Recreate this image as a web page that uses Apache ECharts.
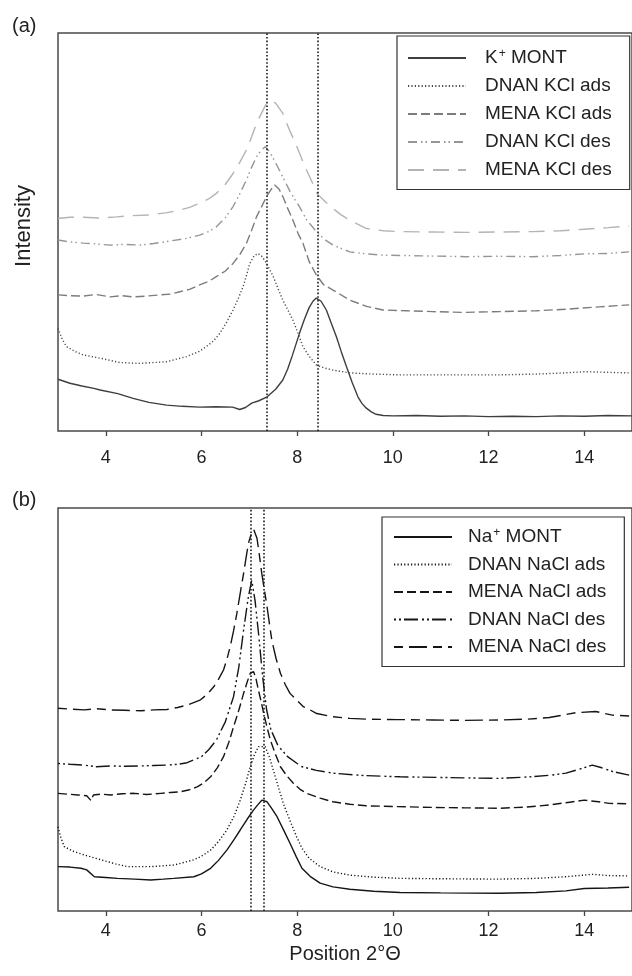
<!DOCTYPE html>
<html>
<head>
<meta charset="utf-8">
<script src="https://cdn.jsdelivr.net/npm/echarts@6/dist/echarts.min.js"></script>
<style>html,body{margin:0;padding:0;background:#fff;}#c{width:632px;height:976px;}</style>
</head>
<body>
<div id="c"></div>
<script>
// ---------- data (x = 2θ position, y = relative intensity, 0..100) ----------
const tickValues = [4, 6, 8, 10, 12, 14];

// (a) K-montmorillonite
const kMont = [[3,13],[3.25,12],[3.5,11.3],[3.75,10.7],[3.88,10.3],[4.25,9.4],[4.57,8.2],[4.9,7.2],[5.27,6.5],[5.6,6.2],[5.96,6],[6.3,6.1],[6.65,6],[6.8,5.4],[6.92,5.9],[7.05,7],[7.2,7.6],[7.36,8.5],[7.55,10.5],[7.7,12.8],[7.8,15.5],[7.9,19],[8.05,24.6],[8.15,28],[8.25,31],[8.33,32.6],[8.4,33.4],[8.5,32.6],[8.61,30.4],[8.7,27.5],[8.82,23.7],[8.92,20],[9.03,16.2],[9.15,12.2],[9.27,8.6],[9.35,7],[9.44,5.8],[9.55,4.8],[9.65,4.2],[9.8,3.9],[10,3.8],[10.5,3.9],[11,3.7],[11.5,3.8],[12,3.6],[12.5,3.7],[13,3.6],[13.5,3.8],[14,3.7],[14.5,3.9],[15,3.8]];
const dnanKClAds = [[3,25.8],[3.09,23],[3.18,21.2],[3.35,20],[3.53,19.1],[3.88,18.3],[4.29,17.2],[4.71,17],[5.27,17.4],[5.69,18.7],[5.95,20],[6.1,21.2],[6.25,22.6],[6.38,24.5],[6.52,27.2],[6.66,30.4],[6.77,33.3],[6.87,36.3],[6.95,39.5],[7.01,42.1],[7.1,44],[7.18,44.6],[7.27,43.8],[7.36,42.1],[7.5,38.8],[7.6,35.8],[7.7,32.9],[7.81,30.3],[7.91,27.9],[8.02,24.5],[8.12,21.2],[8.25,18.8],[8.4,16.6],[8.55,15.9],[8.75,15.3],[9.1,14.6],[9.6,14.3],[10.14,14.1],[11,14.1],[12.23,14.1],[13,14.3],[13.6,14.6],[14,14.9],[14.3,14.8],[14.94,14.6]];
const menaKClAds = [[3,34.2],[3.25,34],[3.53,33.9],[3.8,34.3],[4.09,33.7],[4.35,34],[4.57,33.7],[4.85,33.9],[5.13,34.2],[5.35,34.4],[5.55,35],[5.75,35.6],[5.96,36.7],[6.15,37.6],[6.31,38.8],[6.5,40.2],[6.66,42.1],[6.8,44.3],[6.94,47.2],[7.05,50.5],[7.15,53.8],[7.25,56.2],[7.36,58.9],[7.45,60.6],[7.53,61.8],[7.62,60.8],[7.7,58.9],[7.8,56],[7.91,53],[8.02,49.6],[8.12,47.2],[8.25,42.6],[8.4,39.2],[8.55,36.8],[8.75,35.4],[9.1,32.9],[9.45,31.3],[9.79,30.4],[10.3,30.2],[10.83,30],[11.5,29.8],[12.23,30],[13,30.2],[13.62,30.6],[14.32,31.2],[14.94,31.7]];
const dnanKClDes = [[3,48],[3.25,47.5],[3.53,47.2],[3.8,47],[4.09,46.7],[4.4,46.9],[4.71,46.7],[5.0,47.1],[5.27,47.6],[5.69,48.4],[5.96,49.2],[6.15,50.1],[6.31,51.3],[6.5,53.6],[6.66,56.4],[6.8,59.6],[6.94,63.1],[7.05,66.3],[7.15,68.9],[7.25,70.6],[7.33,71.4],[7.42,70.2],[7.55,67.4],[7.7,63.8],[7.85,60.2],[7.95,58.2],[8.05,56.3],[8.2,53],[8.43,49.7],[8.6,47.9],[8.75,46.7],[9.1,45],[9.45,44.5],[9.79,44.2],[10.6,44],[11.53,43.8],[12.2,43.9],[12.92,43.8],[13.5,44.1],[14,44.5],[14.5,44.6],[14.94,45]];
const menaKClDes = [[3,53.4],[3.25,53.7],[3.53,53.7],[3.85,53.5],[4.22,53.8],[4.55,54.1],[4.92,54.3],[5.25,54.8],[5.55,55.5],[5.75,56.2],[5.96,57.2],[6.15,58.3],[6.31,59.7],[6.5,62],[6.66,64.7],[6.8,67.5],[6.94,70.6],[7.05,74],[7.15,77.3],[7.26,80],[7.36,82.3],[7.45,82.9],[7.55,82.4],[7.7,79.8],[7.84,75.6],[7.95,72.7],[8.05,69.8],[8.15,66.8],[8.26,63.9],[8.43,59.4],[8.6,57.5],[8.75,55.9],[8.92,54.3],[9.1,53],[9.44,50.9],[9.8,50.3],[10.14,50.1],[10.8,50],[11.53,49.9],[12.2,50],[12.92,50.1],[13.5,50.3],[14,50.7],[14.5,51.1],[14.94,51.5]];
const markA = [7.37, 8.43];

// (b) Na-montmorillonite
const naMont = [[3,11],[3.25,10.9],[3.48,10.6],[3.6,10.2],[3.76,8.5],[4.0,8.3],[4.24,8.1],[4.6,7.9],[4.94,7.7],[5.2,7.9],[5.42,8.1],[5.84,8.5],[6.0,9.2],[6.19,10.6],[6.35,12.5],[6.53,15.1],[6.68,17.7],[6.81,20.1],[6.95,22.7],[7.09,25.1],[7.18,26.4],[7.26,27.5],[7.37,27.1],[7.47,25.4],[7.58,23.4],[7.72,20],[7.85,16.8],[7.98,13.5],[8.1,10.6],[8.27,8.6],[8.48,6.9],[8.75,6],[9.1,5.4],[9.6,4.9],[10.15,4.6],[11,4.5],[12.23,4.4],[13,4.6],[13.62,5],[14,5.6],[14.5,5.7],[14.94,5.9]];
const dnanNaClAds = [[3,20.9],[3.06,18.2],[3.13,16],[3.3,14.9],[3.55,13.9],[3.9,12.7],[4.2,11.7],[4.45,11],[4.94,11],[5.42,11.4],[5.84,12.7],[6.0,13.6],[6.19,15.1],[6.36,17.3],[6.53,20.1],[6.68,23.5],[6.81,27.5],[6.92,31.6],[7.02,35.8],[7.1,38.6],[7.19,40.8],[7.33,40.8],[7.42,38.2],[7.5,35],[7.6,31],[7.71,26.7],[7.85,22.4],[7.99,18.4],[8.1,15.6],[8.25,13.1],[8.48,11],[8.75,9.7],[9.1,8.9],[9.6,8.4],[10.15,8.1],[11,8],[12.23,7.9],[13,8.1],[13.62,8.5],[14.17,9.1],[14.5,8.8],[14.94,8.7]];
const menaNaClAds = [[3,29.2],[3.2,29],[3.41,28.8],[3.6,28.6],[3.69,27.4],[3.74,28.8],[3.9,29],[4.1,28.8],[4.35,29.1],[4.59,29.2],[4.85,28.9],[5.15,29.2],[5.35,29.4],[5.56,29.6],[5.75,30.1],[5.91,30.8],[6.05,31.8],[6.19,33.3],[6.33,35.5],[6.46,38.3],[6.57,41.8],[6.67,45.7],[6.78,49.8],[6.88,54],[6.96,57],[7.02,59],[7.09,59.4],[7.14,57.6],[7.19,54.8],[7.25,51.8],[7.3,49],[7.37,45.6],[7.44,42.4],[7.55,38.8],[7.65,35.8],[7.78,33.6],[7.92,31.7],[8.06,30.2],[8.2,29.2],[8.48,28],[8.75,27.1],[9.1,26.5],[9.44,26.1],[10.1,25.9],[10.84,25.7],[11.5,25.6],[12.23,25.5],[12.8,25.8],[13.27,26.3],[13.7,27],[14,27.5],[14.3,27.1],[14.52,26.7],[14.94,26.6]];
const dnanNaClDes = [[3,36.6],[3.25,36.4],[3.55,36.2],[3.8,35.8],[4.1,36],[4.4,35.9],[4.73,36],[5.0,36.1],[5.28,36.2],[5.5,36.4],[5.7,36.8],[6.0,38.3],[6.15,40],[6.31,42.4],[6.5,47],[6.67,53.2],[6.78,60.5],[6.88,69.7],[6.98,78],[7.05,82.1],[7.12,77],[7.2,68],[7.28,58],[7.36,50],[7.45,45],[7.6,41],[7.8,38.3],[8.0,36.6],[8.1,35.8],[8.4,34.9],[8.75,34.2],[9.4,33.6],[10.15,33.3],[11.2,33.1],[12.2,32.9],[12.9,33.3],[13.3,33.7],[13.62,34.2],[13.9,35.2],[14.17,36.2],[14.35,35.6],[14.6,34.6],[14.94,33.7]];
const menaNaClDes = [[3,50.3],[3.25,50.1],[3.55,49.9],[3.8,50.2],[4.1,49.9],[4.4,49.8],[4.73,49.7],[5.0,49.9],[5.28,50],[5.5,50.5],[5.7,51.1],[5.98,52.4],[6.12,53.8],[6.26,55.7],[6.36,57.6],[6.46,59.8],[6.53,62.4],[6.6,65.6],[6.67,69.5],[6.74,73.9],[6.81,78.9],[6.88,83.8],[6.93,87.5],[6.98,91.2],[7.04,93.6],[7.09,94.7],[7.16,92.5],[7.21,88.3],[7.26,83.8],[7.32,79.3],[7.37,75.5],[7.42,71.3],[7.47,67.2],[7.56,62.6],[7.65,59],[7.75,56.2],[7.85,54],[8.0,52.2],[8.13,50.7],[8.27,49.9],[8.41,49],[8.75,48.2],[9.1,47.8],[9.44,47.6],[10.1,47.5],[10.84,47.4],[11.5,47.3],[12.23,47.4],[12.8,47.6],[13.27,48],[13.55,48.6],[13.82,49.2],[14.24,49.5],[14.59,48.6],[14.94,48.4]];
const markB = [7.04, 7.31];

const namesA = ['K+ MONT', 'DNAN KCl ads', 'MENA KCl ads', 'DNAN KCl des', 'MENA KCl des'];
const namesB = ['Na+ MONT', 'DNAN NaCl ads', 'MENA NaCl ads', 'DNAN NaCl des', 'MENA NaCl des'];
const dataA = [kMont, dnanKClAds, menaKClAds, dnanKClDes, menaKClDes];
const dataB = [naMont, dnanNaClAds, menaNaClAds, dnanNaClDes, menaNaClDes];

// ---------- styles ----------
const FONT = "'Liberation Sans', Arial, Helvetica, sans-serif";
const dashTypes = ['solid', [1.2, 2.2], [9, 4], [9, 4, 1.5, 3, 1.5, 4], [16, 9]];
const dashTypesB = ['solid', [1.2, 2.2], [9, 4], [2, 3, 2, 3, 14, 4], [9, 6, 18, 6]];
const colorsA = ['#3e3e3e', '#4a4a4a', '#7c7c7c', '#969696', '#b4b4b4'];
const colorB = '#151515';

function mkSeries(names, datas, colors, types, gridIdx, marks) {
  return names.map((n, i) => {
    const c = Array.isArray(colors) ? colors[i] : colors;
    const s = {
      name: n, type: 'line', xAxisIndex: gridIdx, yAxisIndex: gridIdx,
      data: datas[i], symbol: 'none', smooth: false, silent: true,
      lineStyle: { color: c, width: 1.4, type: types[i] },
      itemStyle: { color: c },
      z: 5 - i
    };
    if (i === 0) {
      s.markLine = {
        silent: true, symbol: 'none', animation: false,
        label: { show: false },
        lineStyle: { color: '#1a1a1a', width: 1.6, type: [1.6, 2] },
        data: marks.map(v => ({ xAxis: v }))
      };
    }
    return s;
  });
}

function legendFmt(name) {
  const m = name.match(/^(\w+)\+ (.*)$/);
  if (m) return '{p|' + m[1] + '}{s|+}{t| ' + m[2] + '}';
  return '{p|' + name + '}';
}

function mkLegend(names, left, top, pad, gap, padL) {
  return {
    data: names, orient: 'vertical', left: left, top: top,
    padding: pad, itemGap: gap, itemWidth: 58, itemHeight: 14,
    borderColor: '#333', borderWidth: 1.2, backgroundColor: '#fff',
    selectedMode: false, formatter: legendFmt,
    itemStyle: { color: 'rgba(0,0,0,0)', opacity: 0, borderWidth: 0 },
    textStyle: {
      fontFamily: FONT, fontSize: 19, color: '#222',
      rich: {
        p: { fontFamily: FONT, fontSize: 19, color: '#222', lineHeight: 20, padding: [0, 0, 0, padL] },
        t: { fontFamily: FONT, fontSize: 19, color: '#222', lineHeight: 20 },
        s: { fontFamily: FONT, fontSize: 12, color: '#222', lineHeight: 8, verticalAlign: 'top', padding: [0, 0, 0, 1] }
      }
    }
  };
}

function mkX(gridIdx, margin, withName) {
  const ax = {
    type: 'value', gridIndex: gridIdx, min: 3, max: 15,
    axisLine: { show: false },
    splitLine: { show: false },
    axisTick: { show: true, length: 5, lineStyle: { color: '#444', width: 1.3 }, customValues: tickValues },
    axisLabel: { show: true, margin: margin, fontFamily: FONT, fontSize: 18, color: '#222', customValues: tickValues }
  };
  if (withName) {
    ax.name = 'Position 2°Θ';
    ax.nameLocation = 'middle';
    ax.nameGap = 33;
    ax.nameTextStyle = { fontFamily: FONT, fontSize: 20, color: '#222' };
  }
  return ax;
}
function mkY(gridIdx) {
  return {
    type: 'value', gridIndex: gridIdx, min: 0, max: 100,
    axisLine: { show: false }, axisTick: { show: false },
    axisLabel: { show: false }, splitLine: { show: false }
  };
}

const chart = echarts.init(document.getElementById('c'), null, { renderer: 'canvas' });
chart.setOption({
  animation: false,
  backgroundColor: '#fff',
  grid: [
    { left: 58, top: 33, width: 575, height: 398, show: true, borderColor: '#4a4a4a', borderWidth: 1.5, backgroundColor: 'transparent' },
    { left: 58, top: 508, width: 575, height: 403, show: true, borderColor: '#4a4a4a', borderWidth: 1.5, backgroundColor: 'transparent' }
  ],
  xAxis: [mkX(0, 18, false), mkX(1, 11, true)],
  yAxis: [mkY(0), mkY(1)],
  legend: [
    mkLegend(namesA, 397, 36, [12, 18, 10, 10], 9, 14),
    mkLegend(namesB, 382, 517, [10, 18, 10, 11], 8.5, 11)
  ],
  graphic: [
    { type: 'text', left: 12, top: 16, style: { text: '(a)', font: '20px ' + FONT, fill: '#222' } },
    { type: 'text', left: 12, top: 490, style: { text: '(b)', font: '20px ' + FONT, fill: '#222' } },
    { type: 'text', x: 24, y: 226, rotation: Math.PI / 2, style: { text: 'Intensity', font: '22px ' + FONT, fill: '#222', align: 'center', verticalAlign: 'middle' } }
  ],
  series: [].concat(
    mkSeries(namesA, dataA, colorsA, dashTypes, 0, markA),
    mkSeries(namesB, dataB, colorB, dashTypesB, 1, markB)
  )
});
</script>
</body>
</html>
